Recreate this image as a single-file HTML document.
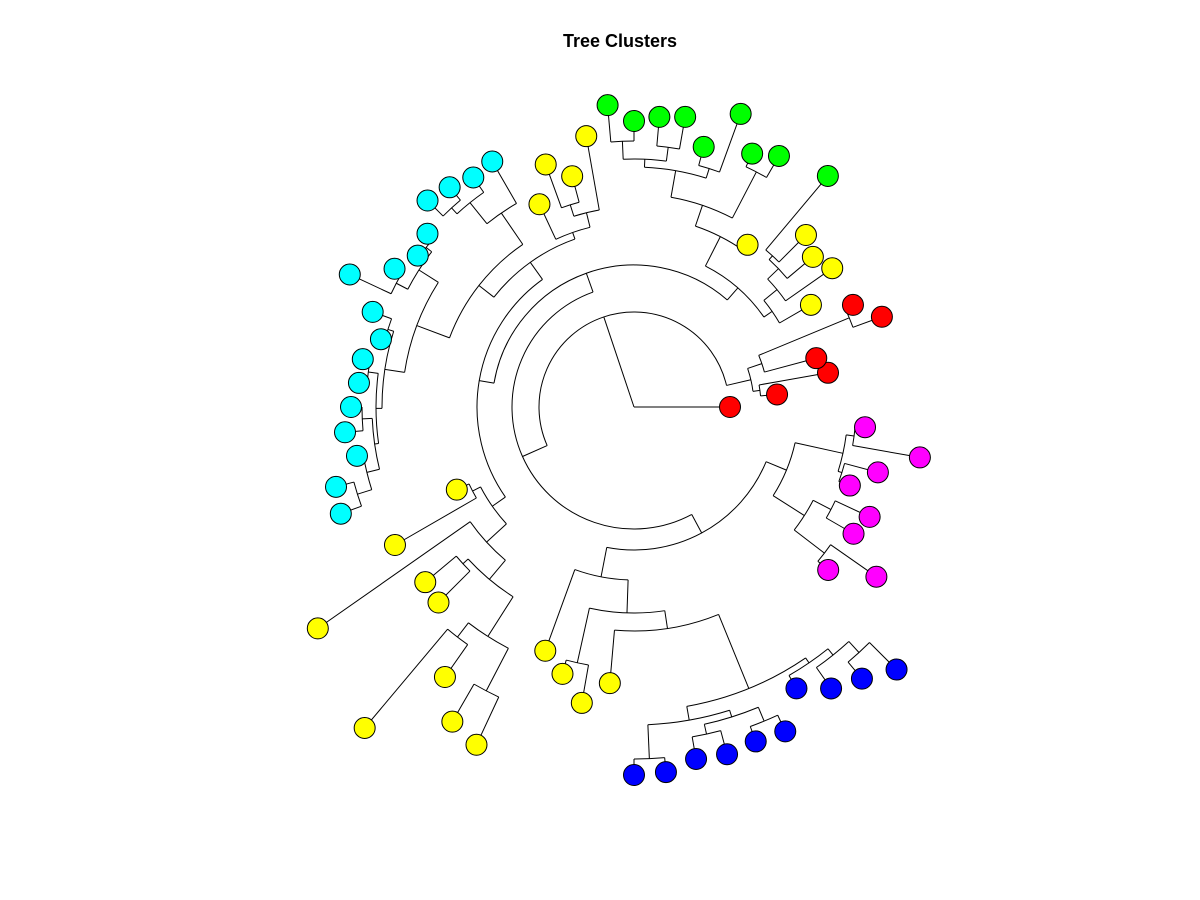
<!DOCTYPE html>
<html>
<head>
<meta charset="utf-8">
<style>
  html,body{margin:0;padding:0;background:#fff;}
  svg{display:block;}
</style>
</head>
<body>
<svg id="chart" width="1200" height="900" viewBox="0 0 1200 900" xmlns="http://www.w3.org/2000/svg">
  <rect x="0" y="0" width="1200" height="900" fill="#ffffff"/>
  <text x="620" y="47" text-anchor="middle" font-family="Liberation Sans, sans-serif" font-weight="bold" font-size="18" fill="#000">Tree Clusters</text>
  <g id="branches"></g>
  <g id="tips"></g>
</svg>
<script>
// ---- data ----
const clusterColors = ["#FF0000","#FFFF00","#00FF00","#00FFFF","#FF00FF","#0000FF"];
// cluster id per tip, in tip order (counterclockwise from angle 0)
const tipCluster = [0,0,0,0,0,0, 1,1,1,1, 2, 1, 2,2,2,2,2,2,2,2, 1,1,1,1,
  3,3,3,3,3,3,3,3,3,3,3,3,3,3,3,3,3,
  1,1,1,1,1,1,1,1,1, 1,1,1,1,
  5,5,5,5,5,5,5,5,5,5,
  4,4,4,4,4,4,4,4];
// tip depth (distance from root, tree units)
const tipDepth = [96,143.6,197,188.7,263.8,241.6, 204.3,242,233.5,243.2, 301.6,198,
  289.9,279.6,311.9,269.3,294.6,291.2,286,303,
  275,238.9,258.1,223.7,
  283.5,280.2,286.8,292,269.6,264,276.5,313.6,278.1,262,275.4,276.1,283,290.1,281.3,308.5,312,
  195.5,276,386,272.5,276.5,419,329.6,363.3,372.7,
  259.4,276.3,300.5,277.2,
  368,366.5,357.4,359.5,355.9,357.9,324.9,343.6,354.6,371.3,
  253.5,295.9,253.5,260,229.7,252.5,290.3,231.9];
// tree topology: [nodeDepth, child, child, ...]; numbers are tip indices
const treeTopology =
[0, 0,
 [95,
  [120, [127,1,2], [135,3,[233,4,5]]],
  [122,
   [142,
    [158,
     [168,6,[185,7,[200,8,[205,9,10]]]],
     [191,11,[213,[240,[248,[262,16,17],[266,18,19]],[250,14,15]],[265,12,13]]]],
    [157,
     [178,
      [185,23,[200,[212,21,22],20]],
      [197,
       [235,24,[262,25,[270,26,27]]],
       [232,[255,[262,28,29],[268,30,31]],
        [252,[258,32,33],
         [258,[268,34,35],
          [262,[272,36,37],[275,38,[290,39,40]]]]]]]],
     [173,[182,41,42],[200,43,[225,[232,44,45],[272,[290,46,47],[320,48,49]]]]]]],
   [143,
    [173,50,[206,[262,51,52],[224,53,
      [304,[318,[352,54,55],[325,[335,56,57],[340,58,59]]],
           [310,60,[318,61,[333,62,63]]]]]]],
    [165,[214,[222,70,71],[218,68,69]],[202,[222,66,67],[240,64,65]]]]]]];

// ---- layout ----
const cx = 634, cy = 407, tipR = 10.5;
const nTips = tipDepth.length;
const angleOf = i => i * 360 / nTips;
const NS = "http://www.w3.org/2000/svg";
const gB = document.getElementById("branches");
const gT = document.getElementById("tips");
const rad = d => d * Math.PI / 180;
const px = (r,a) => cx + r * Math.cos(rad(a));
const py = (r,a) => cy - r * Math.sin(rad(a));

function layout(node){
  if (typeof node === "number") return {a: angleOf(node), r: tipDepth[node], tip: node};
  const r = node[0];
  const kids = node.slice(1).map(layout);
  const angs = kids.map(k => k.a);
  const a = (Math.min(...angs) + Math.max(...angs)) / 2;
  return {a, r, kids};
}
let nodeCount = 0;
function draw(n){
  if (!n.kids) return;
  const angs = n.kids.map(k => k.a);
  const a1 = Math.min(...angs), a2 = Math.max(...angs);
  if (n.r > 0 && a2 > a1) {
    const p = document.createElementNS(NS, "path");
    const large = (a2 - a1) > 180 ? 1 : 0;
    p.setAttribute("d", `M${px(n.r,a1)},${py(n.r,a1)} A${n.r},${n.r} 0 ${large} 0 ${px(n.r,a2)},${py(n.r,a2)}`);
    p.setAttribute("fill","none"); p.setAttribute("stroke","#000"); p.setAttribute("stroke-width","1");
    
    
    gB.appendChild(p);
  }
  n.kids.forEach(k => {
    const l = document.createElementNS(NS, "line");
    l.setAttribute("x1", px(n.r,k.a)); l.setAttribute("y1", py(n.r,k.a));
    l.setAttribute("x2", px(k.r,k.a)); l.setAttribute("y2", py(k.r,k.a));
    l.setAttribute("stroke","#000"); l.setAttribute("stroke-width","1");
    
    
    gB.appendChild(l);
    draw(k);
  });
}
const rootNode = layout(treeTopology);
draw(rootNode);
for (let i = 0; i < nTips; i++) {
  const a = angleOf(i), r = tipDepth[i];
  const c = document.createElementNS(NS, "circle");
  c.setAttribute("cx", px(r,a)); c.setAttribute("cy", py(r,a)); c.setAttribute("r", tipR);
  c.setAttribute("fill", clusterColors[tipCluster[i]]);
  c.setAttribute("stroke","#000"); c.setAttribute("stroke-width","1");
  
  
  gT.appendChild(c);
}
</script>
</body>
</html>
